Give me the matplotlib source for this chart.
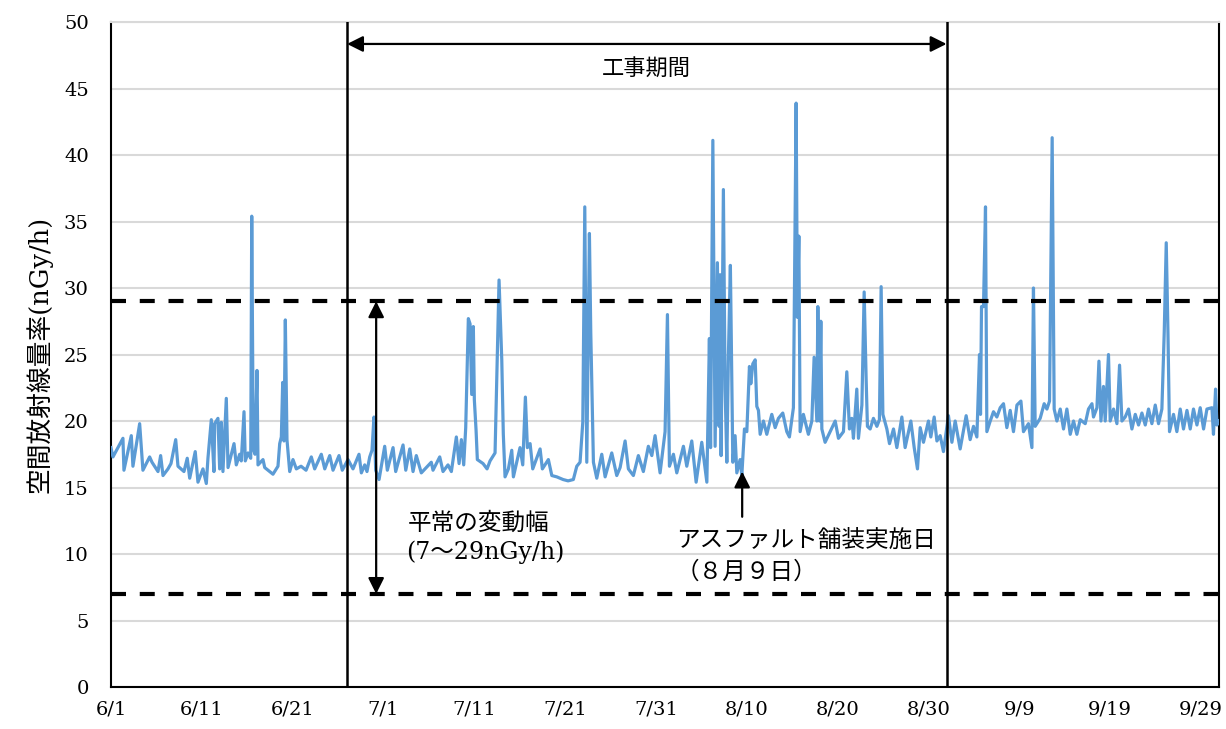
import matplotlib
matplotlib.use("Agg")
import matplotlib.pyplot as plt

plt.rcParams['font.family'] = ['DejaVu Serif', 'Noto Sans CJK JP']

# elapsed days since 6/1 00:00
day = [
    0.00, 0.22, 1.32, 1.43, 2.24, 2.42, 3.16, 3.52, 4.26, 4.52, 5.18, 5.47, 5.73, 6.28, 6.61,
    7.13, 7.38, 8.04, 8.40, 8.67, 9.28, 9.58, 10.13, 10.50, 10.68, 11.05, 11.34, 11.42, 11.78,
    11.97, 12.15, 12.33, 12.70, 12.89, 13.55, 13.80, 14.17, 14.35, 14.65, 14.79, 15.09, 15.39,
    15.50, 15.67, 15.86, 16.08, 16.19, 16.74, 16.93, 17.29, 17.84, 18.39, 18.58, 18.76, 18.91,
    19.05, 19.20, 19.38, 19.68, 20.04, 20.41, 20.93, 21.48, 22.06, 22.43, 23.16, 23.54, 24.09,
    24.45, 25.11, 25.47, 26.10, 26.65, 27.31, 27.57, 27.94, 28.19, 28.49, 28.74, 28.96, 29.15,
    29.52, 30.14, 30.43, 31.06, 31.35, 32.16, 32.46, 32.90, 33.26, 33.62, 34.17, 34.72, 35.27,
    35.46, 36.20, 36.56, 37.11, 37.48, 38.03, 38.33, 38.58, 38.84, 39.06, 39.35, 39.54, 39.72,
    39.90, 40.01, 40.20, 40.34, 40.97, 41.41, 41.74, 42.29, 42.73, 43.03, 43.20, 43.39, 43.76,
    44.13, 44.31, 45.04, 45.34, 45.63, 45.85, 46.15, 46.44, 47.25, 47.50, 48.16, 48.54, 49.09,
    49.78, 50.33, 50.91, 51.29, 51.65, 51.95, 52.17, 52.39, 52.68, 52.83, 53.12, 53.49, 54.04,
    54.41, 55.14, 55.69, 56.06, 56.61, 56.97, 57.52, 58.07, 58.62, 59.17, 59.55, 59.91, 60.46,
    61.01, 61.27, 61.49, 61.93, 62.30, 63.03, 63.40, 63.95, 64.43, 65.05, 65.61, 65.89, 66.02,
    66.27, 66.52, 66.77, 66.96, 67.07, 67.18, 67.43, 67.62, 67.81, 67.98, 68.20, 68.47, 68.72,
    68.91, 69.27, 69.46, 69.75, 70.01, 70.30, 70.45, 70.67, 70.93, 71.11, 71.29, 71.48, 71.84,
    72.21, 72.76, 73.13, 73.49, 73.97, 74.41, 74.70, 75.14, 75.44, 75.58, 75.74, 75.88, 76.24,
    76.79, 77.17, 77.42, 77.72, 77.83, 78.01, 78.16, 78.27, 78.63, 79.19, 79.74, 80.10, 80.65,
    81.02, 81.31, 81.57, 81.75, 82.12, 82.30, 82.68, 82.93, 83.15, 83.29, 83.59, 83.95, 84.33,
    84.61, 84.80, 84.99, 85.43, 85.72, 86.16, 86.53, 87.08, 87.44, 88.07, 88.44, 88.80, 89.10,
    89.46, 90.01, 90.27, 90.64, 90.94, 91.30, 91.66, 92.21, 92.59, 92.95, 93.50, 94.16, 94.60,
    94.97, 95.34, 95.63, 95.74, 95.85, 96.07, 96.29, 96.44, 96.81, 97.17, 97.54, 97.91, 98.27,
    98.64, 99.01, 99.37, 99.75, 100.19, 100.47, 101.02, 101.40, 101.57, 101.76, 102.31, 102.75,
    103.05, 103.34, 103.63, 103.85, 104.15, 104.52, 104.88, 105.25, 105.62, 105.98, 106.35,
    106.72, 107.27, 107.63, 108.01, 108.18, 108.56, 108.78, 109.00, 109.28, 109.47, 109.83,
    110.02, 110.39, 110.76, 111.05, 111.31, 111.67, 112.04, 112.41, 112.78, 113.14, 113.51,
    113.88, 114.24, 114.61, 114.98, 115.34, 115.71, 115.97, 116.19, 116.38, 116.55, 116.99,
    117.36, 117.73, 118.09, 118.47, 118.83, 119.19, 119.57, 119.93, 120.30, 120.67, 121.22,
    121.39, 121.62, 121.77, 121.99,
]

# air dose rate (nGy/h)
dose = [
    18.0, 17.3, 18.7, 16.3, 18.9, 16.6, 19.8, 16.3, 17.3, 16.9, 16.2, 17.4, 15.9, 16.4, 16.8,
    18.6, 16.6, 16.2, 17.2, 15.7, 17.7, 15.4, 16.4, 15.3, 17.2, 20.1, 16.2, 19.8, 20.2,
    16.4, 19.9, 16.2, 21.7, 16.5, 18.3, 16.7, 17.5, 17.0, 20.7, 17.0, 17.6, 17.2,
    35.4, 17.9, 17.5, 23.8, 16.7, 17.1, 16.5, 16.3, 16.0, 16.6, 18.3, 18.8, 22.9,
    18.5, 27.6, 18.6, 16.2, 17.1, 16.4, 16.6, 16.3, 17.3, 16.4, 17.5, 16.4, 17.4,
    16.3, 17.4, 16.3, 17.1, 16.4, 17.5, 16.1, 16.7, 16.2, 17.3, 17.8, 20.3, 16.3,
    15.6, 18.1, 16.3, 18.0, 16.2, 18.2, 16.3, 17.9, 16.2, 17.4, 16.1, 16.5, 16.9,
    16.3, 17.3, 16.2, 16.7, 16.2, 18.8, 16.8, 18.6, 16.7, 19.5, 27.7, 27.3, 22.0,
    27.1, 21.6, 19.3, 17.1, 16.8, 16.4, 17.0, 17.6, 30.6, 24.6, 19.0, 15.8, 16.4,
    17.8, 15.8, 18.0, 16.7, 21.8, 18.0, 18.3, 16.4, 17.9, 16.4, 17.1, 15.9, 15.8,
    15.6, 15.5, 15.6, 16.6, 16.9, 19.9, 36.1, 16.9, 34.1, 26.6, 16.9, 15.7, 17.5,
    15.8, 17.6, 15.9, 16.5, 18.5, 16.4, 15.9, 17.4, 16.2, 18.1, 17.4, 18.9, 16.1,
    19.2, 28.0, 16.6, 17.5, 16.1, 18.1, 16.6, 18.5, 15.4, 18.4, 15.4, 26.2, 18.0,
    41.1, 18.1, 31.9, 19.6, 31.0, 17.4, 37.4, 22.4, 16.9, 24.8, 31.7, 16.9, 18.9,
    16.1, 17.1, 15.9, 19.4, 19.2, 24.1, 22.8, 24.3, 24.6, 21.1, 20.8, 19.0, 20.0,
    19.0, 20.5, 19.5, 20.2, 20.6, 19.2, 18.8, 21.0, 43.9, 27.8, 33.9, 19.2, 20.5,
    19.0, 20.0, 24.8, 20.0, 28.6, 20.0, 27.5, 19.4, 18.4, 19.2, 20.0, 18.7, 19.2,
    23.7, 19.4, 20.2, 18.7, 22.4, 18.7, 21.2, 29.7, 23.1, 19.6, 19.4, 20.2, 19.6,
    20.1, 30.1, 20.5, 19.4, 18.3, 19.4, 18.0, 20.3, 18.0, 20.0, 18.0, 16.4, 19.5,
    18.4, 20.0, 18.8, 20.3, 18.5, 18.9, 17.7, 20.4, 18.4, 20.0, 17.9, 20.4, 18.6,
    19.6, 18.8, 25.0, 20.5, 28.6, 28.6, 36.1, 19.2, 20.0, 20.7, 20.3, 21.0, 21.3,
    19.5, 20.8, 19.2, 21.2, 21.5, 19.2, 19.8, 18.0, 30.0, 19.6, 20.2, 21.3,
    20.9, 21.5, 41.3, 20.9, 20.0, 20.9, 19.4, 20.9, 19.0, 20.0, 19.0,
    20.1, 19.8, 20.9, 21.3, 20.3, 21.0, 24.5, 20.0, 22.6, 20.0, 25.0,
    20.0, 20.9, 19.8, 24.2, 20.0, 20.3, 20.9, 19.4, 20.5, 19.7, 20.6,
    19.7, 20.9, 19.8, 21.2, 19.8, 20.9, 26.7, 33.4, 26.6, 19.2, 20.5,
    19.2, 20.9, 19.4, 20.8, 19.4, 20.9, 19.7, 21.0, 19.4, 20.9, 21.0,
    19.0, 22.4, 19.7, 20.0,
]

tick_days = [0, 10, 20, 30, 40, 50, 60, 70, 80, 90, 100, 110, 120]
tick_labels = ['6/1', '6/11', '6/21', '7/1', '7/11', '7/21', '7/31',
               '8/10', '8/20', '8/30', '9/9', '9/19', '9/29']

normal_low, normal_high = 7, 29     # usual fluctuation range
work_start, work_end = 26, 92       # 6/27 .. 9/1
paving_day = 69.5                   # 8/9

fig = plt.figure(figsize=(12.26, 7.29), dpi=100)
ax = fig.add_axes([0.0905, 0.0576, 0.9038, 0.9122])

ax.plot(day, dose, color='#5B9BD5', lw=2.3, zorder=3)

ax.set_xlim(0, 122)
ax.set_ylim(0, 50)
ax.set_yticks(range(0, 51, 5))
ax.set_xticks(tick_days)
ax.set_xticklabels(tick_labels)
ax.tick_params(axis='both', length=0, labelsize=14)
ax.tick_params(axis='y', pad=16)
ax.tick_params(axis='x', pad=10)
ax.yaxis.grid(True, color='#D9D9D9', lw=1.5)
ax.set_axisbelow(True)
for s in ax.spines.values():
    s.set_color('black')
    s.set_linewidth(1.5)
ax.spines['top'].set_color('#D9D9D9')

ax.set_ylabel('空間放射線量率(nGy/h)', fontsize=18.5, labelpad=8)

# normal range
for v in (normal_low, normal_high):
    ax.axhline(v, color='black', lw=3, linestyle=(0, (3.6, 3.3)), zorder=4)

# construction period
for d in (work_start, work_end):
    ax.axvline(d, color='black', lw=1.8, zorder=4)
ax.annotate('', xy=(work_start, 48.35), xytext=(work_end, 48.35),
            arrowprops=dict(arrowstyle='<|-|>', color='black', lw=1.6,
                            mutation_scale=24, shrinkA=0, shrinkB=0))
ax.text((work_start + work_end) / 2, 46.5, '工事期間', fontsize=16,
        ha='center', va='center')

ax.annotate('', xy=(29.2, normal_high), xytext=(29.2, normal_low),
            arrowprops=dict(arrowstyle='<|-|>', color='black', lw=1.6,
                            mutation_scale=24, shrinkA=0, shrinkB=0))
ax.text(32.7, 12.3, '平常の変動幅', fontsize=17, ha='left', va='center')
ax.text(32.5, 10.1, '(7～29nGy/h)', fontsize=17, ha='left', va='center')

ax.annotate('', xy=(paving_day, 16.2), xytext=(paving_day, 12.8),
            arrowprops=dict(arrowstyle='-|>', color='black', lw=1.6,
                            mutation_scale=24, shrinkA=0, shrinkB=0))
ax.text(62.2, 11.05, 'アスファルト舗装実施日', fontsize=17, ha='left', va='center')
ax.text(62.2, 8.65, '（８月９日）', fontsize=17, ha='left', va='center')

fig.savefig('out.png', dpi=100)
